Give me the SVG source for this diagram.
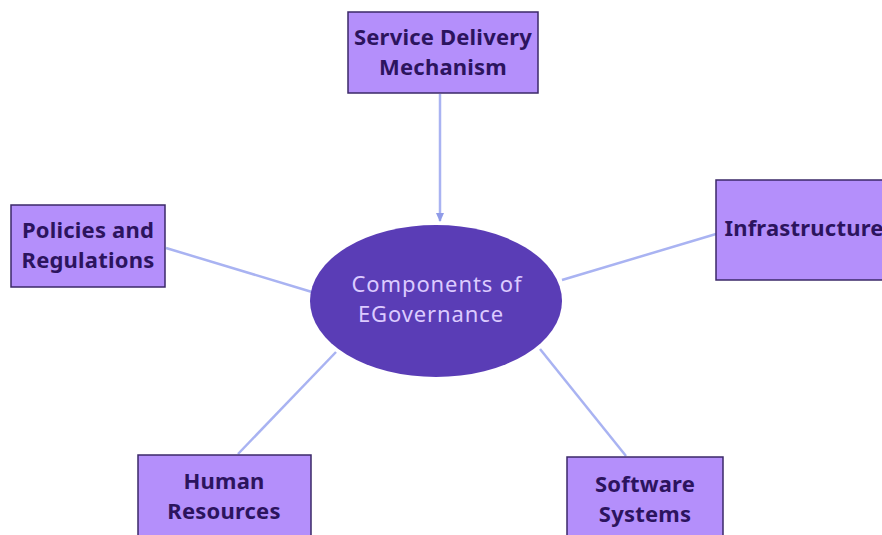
<svg xmlns="http://www.w3.org/2000/svg" width="882" height="535" viewBox="0 0 882 535">
<style>
.box{fill:#b48ffb;stroke:#3b2868;stroke-width:1.5}
.lbl{font-family:"Noto Sans","Liberation Sans",sans-serif;font-weight:700;font-size:22px;letter-spacing:0.2px;fill:#2c145e;text-anchor:middle}
.ctr{font-family:"Noto Sans","Liberation Sans",sans-serif;font-weight:400;font-size:22px;letter-spacing:0.9px;fill:#dccbff;text-anchor:middle}
.con{stroke:#a9b3f2;stroke-width:2.5;fill:none}
</style>
<defs>
<marker id="arr" markerWidth="10" markerHeight="10" refX="8" refY="5" orient="auto" markerUnits="userSpaceOnUse">
<path d="M0,1 L9,5 L0,9 Z" fill="#8f9be8"/>
</marker>
</defs>
<rect width="882" height="535" fill="#ffffff"/>
<g id="connectors">
<line class="con" x1="440" y1="94" x2="440" y2="221" marker-end="url(#arr)"/>
<line class="con" x1="166" y1="248" x2="312" y2="292"/>
<line class="con" x1="716" y1="234" x2="562" y2="280"/>
<line class="con" x1="238" y1="454" x2="336" y2="352"/>
<line class="con" x1="626" y1="456" x2="540" y2="349"/>
</g>
<g id="center">
<ellipse cx="436" cy="301" rx="126" ry="76" fill="#5a3db6"/>
<text class="ctr" x="437" y="292">Components of</text>
<text class="ctr" x="431" y="322">EGovernance</text>
</g>
<g id="service">
<rect class="box" x="348" y="12" width="190" height="81"/>
<text class="lbl" x="443" y="45">Service Delivery</text>
<text class="lbl" x="443" y="75">Mechanism</text>
</g>
<g id="policies">
<rect class="box" x="11" y="205" width="154" height="82"/>
<text class="lbl" x="88" y="238">Policies and</text>
<text class="lbl" x="88" y="268">Regulations</text>
</g>
<g id="infrastructure">
<rect class="box" x="716" y="180" width="170" height="100"/>
<text class="lbl" x="804" y="236">Infrastructure</text>
</g>
<g id="human">
<rect class="box" x="138" y="455" width="173" height="85"/>
<text class="lbl" x="224" y="489">Human</text>
<text class="lbl" x="224" y="519">Resources</text>
</g>
<g id="software">
<rect class="box" x="567" y="457" width="156" height="85"/>
<text class="lbl" x="645" y="492">Software</text>
<text class="lbl" x="645" y="522">Systems</text>
</g>
</svg>
